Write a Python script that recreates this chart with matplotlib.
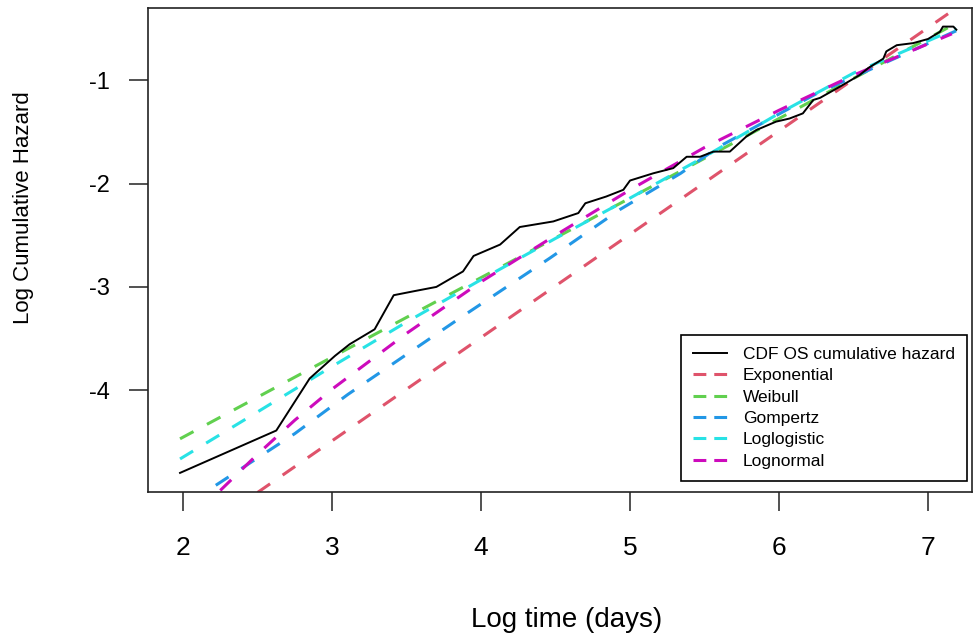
import matplotlib
matplotlib.use("Agg")
import matplotlib.pyplot as plt
from matplotlib.lines import Line2D

plt.rcParams['font.family'] = ['Liberation Sans', 'DejaVu Sans']

# Observed cumulative hazard (log-log)
obs_x = [1.98, 2.626, 2.85, 3.02, 3.118, 3.286, 3.414, 3.555, 3.70, 3.879, 3.95, 4.128,
         4.26, 4.485, 4.653, 4.70, 4.84, 4.955, 5.0, 5.156, 5.29, 5.38, 5.47, 5.56, 5.67,
         5.78, 5.85, 5.98, 6.07, 6.16, 6.23, 6.275, 6.41, 6.54, 6.60, 6.70, 6.72, 6.79,
         6.90, 7.00, 7.08, 7.10, 7.17, 7.19]
obs_y = [-4.80, -4.39, -3.886, -3.667, -3.555, -3.41, -3.08, -3.04, -3.00, -2.85, -2.70, -2.59,
         -2.42, -2.366, -2.285, -2.19, -2.125, -2.06, -1.97, -1.90, -1.85, -1.74, -1.74, -1.69, -1.69,
         -1.545, -1.48, -1.40, -1.37, -1.32, -1.19, -1.17, -1.06, -0.95, -0.88, -0.79, -0.72, -0.66,
         -0.64, -0.60, -0.53, -0.48, -0.48, -0.51]

exp_x = [2.50, 7.30]
exp_y = [-4.99, -0.19]

wei_x = [1.98, 3.0, 4.0, 5.0, 6.0, 7.16]
wei_y = [-4.47, -3.68, -2.91, -2.14, -1.37, -0.47]

gom_x = [2.22, 2.75, 3.107, 3.86, 4.463, 4.933, 5.34, 5.6, 6.25, 7.19]
gom_y = [-4.92, -4.42, -4.04, -3.30, -2.72, -2.25, -1.90, -1.64, -1.13, -0.52]

llog_x = [1.98, 2.5, 3.0, 3.5, 4.0, 4.5, 5.0, 5.5, 6.0, 6.5, 7.19]
llog_y = [-4.665, -4.21, -3.77, -3.34, -2.93, -2.53, -2.14, -1.74, -1.32, -0.93, -0.50]

lnorm_x = [2.25, 2.5, 2.75, 3.0, 3.5, 4.0, 4.5, 5.0, 5.5, 6.0, 6.5, 7.16]
lnorm_y = [-4.97, -4.62, -4.29, -3.99, -3.45, -2.95, -2.50, -2.06, -1.65, -1.29, -0.95, -0.55]

labels = ["CDF OS cumulative hazard", "Exponential", "Weibull", "Gompertz",
          "Loglogistic", "Lognormal"]
colors = ["black", "#DF536B", "#61D04F", "#2297E6", "#28E2E5", "#CD0BBC"]

x_ticks = [2, 3, 4, 5, 6, 7]
y_ticks = [-4, -3, -2, -1]

fig = plt.figure(figsize=(9.78, 6.37), dpi=100)
ax = fig.add_axes([148/978, (637-492)/637, 824/978, 484/637])

lw_d = 2.2
dash = (5.0, 5.0)
ax.plot(obs_x, obs_y, color=colors[0], lw=1.4, zorder=5)
series = [(exp_x, exp_y), (wei_x, wei_y), (gom_x, gom_y), (llog_x, llog_y), (lnorm_x, lnorm_y)]
for (xs, ys), c in zip(series, colors[1:]):
    ax.plot(xs, ys, color=c, lw=lw_d, dashes=dash)

ax.set_xlim(1.765, 7.295)
ax.set_ylim(-4.985, -0.30)
ax.set_xticks(x_ticks)
ax.set_xticklabels([str(t) for t in x_ticks])
ax.set_yticks(y_ticks)
ax.set_yticklabels([str(t) for t in y_ticks])
ax.tick_params(axis='x', length=13.5, width=1.1, labelsize=19, pad=18, color='#222222')
ax.tick_params(axis='y', length=13.5, width=1.1, labelsize=17, pad=14, color='#222222')
for s in ax.spines.values():
    s.set_linewidth(1.2)
    s.set_color('#222222')

fig.text(567/978, 1 - 620/637, "Log time (days)", fontsize=20, ha='center', va='center')
fig.text(24/978, 1 - 208/637, "Log Cumulative Hazard", fontsize=16, ha='center',
         va='center', rotation=90)

handles = [Line2D([], [], color=colors[0], lw=1.4)]
handles += [Line2D([], [], color=c, lw=lw_d, dashes=(4.2, 2.6)) for c in colors[1:]]
leg = ax.legend(handles, labels, loc='lower right',
                bbox_to_anchor=((967-148)/824, (492-481)/484),
                borderaxespad=0, fontsize=12.5, frameon=True, fancybox=False,
                handlelength=1.95, handletextpad=0.9, labelspacing=0.36,
                borderpad=0.7)
leg.get_frame().set_edgecolor('black')
leg.get_frame().set_linewidth(1.2)
leg.get_frame().set_alpha(1)

fig.savefig("out.png", dpi=100)
